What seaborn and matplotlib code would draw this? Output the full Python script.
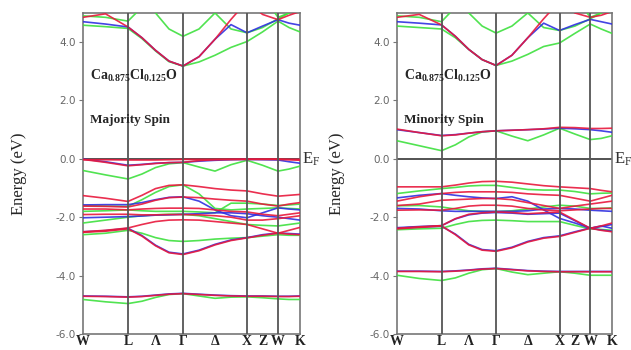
import numpy as np
import pandas as pd
import matplotlib
matplotlib.use("Agg")
import matplotlib.pyplot as plt
import seaborn as sns

# ---------------- data ----------------
# k-path nodes: W, -, L, -, Λ, -, Γ, -, Δ, -, X, Z, W, -, K
k_nodes = [0, 22.5, 45, 59, 72.5, 86, 100, 116, 132, 148, 164, 179.5, 195, 206, 217]
sym_pos = [0, 45, 72.5, 100, 132, 164, 179.5, 195, 217]
sym_labels = ["W", "L", "Λ", "Γ", "Δ", "X", "Z", "W", "K"]
vline_pos = [45, 100, 164, 195]
y_ticks = [-6.0, -4.0, -2.0, 0.0, 2.0, 4.0]

# Majority spin bands
maj_red = [
    [4.85, 4.97, 4.52, 4.15, 3.72, 3.35, 3.18, 3.50, 4.10, 4.78, 5.40, 5.60, 5.60, 5.60, 5.60],
    [5.60, 5.60, 5.60, 5.60, 5.60, 5.60, 5.60, 5.60, 5.60, 5.60, 5.40, 4.95, 4.77, 4.92, 5.05],
    [-0.02, -0.12, -0.24, -0.20, -0.16, -0.13, -0.12, -0.06, -0.03, -0.02, -0.01, -0.01, -0.01, -0.03, -0.05],
    [-0.03, -0.03, -0.04, -0.04, -0.04, -0.03, -0.02, -0.02, -0.02, -0.02, -0.02, -0.02, -0.02, -0.02, -0.02],
    [-1.26, -1.35, -1.46, -1.25, -1.02, -0.91, -0.89, -0.95, -1.02, -1.07, -1.10, -1.20, -1.28, -1.25, -1.22],
    [-1.62, -1.63, -1.65, -1.55, -1.42, -1.33, -1.31, -1.33, -1.38, -1.42, -1.45, -1.55, -1.62, -1.55, -1.50],
    [-1.72, -1.72, -1.75, -1.72, -1.70, -1.69, -1.69, -1.70, -1.75, -1.80, -1.82, -1.90, -1.95, -1.90, -1.85],
    [-1.91, -1.90, -1.90, -1.92, -1.92, -1.91, -1.91, -1.92, -1.95, -2.00, -2.10, -2.10, -2.05, -2.00, -1.95],
    [-2.50, -2.45, -2.37, -2.25, -2.15, -2.10, -2.09, -2.10, -2.15, -2.20, -2.25, -2.40, -2.55, -2.45, -2.35],
    [-2.52, -2.48, -2.40, -2.65, -2.98, -3.22, -3.28, -3.15, -2.95, -2.80, -2.71, -2.62, -2.55, -2.58, -2.60],
    [-4.71, -4.72, -4.74, -4.72, -4.68, -4.64, -4.62, -4.65, -4.68, -4.70, -4.71, -4.71, -4.72, -4.72, -4.71],
]
maj_blue = [
    [4.70, 4.62, 4.52, 4.15, 3.72, 3.35, 3.18, 3.50, 4.10, 4.60, 4.32, 4.55, 4.77, 4.65, 4.58],
    [-0.01, -0.10, -0.22, -0.19, -0.15, -0.13, -0.12, -0.08, -0.05, -0.03, -0.02, -0.03, -0.04, -0.10, -0.15],
    [-1.58, -1.57, -1.57, -1.50, -1.40, -1.32, -1.30, -1.45, -1.75, -1.95, -2.02, -1.85, -1.68, -1.72, -1.75],
    [-2.02, -2.00, -1.98, -1.96, -1.93, -1.92, -1.90, -1.88, -1.85, -1.85, -1.88, -1.95, -2.00, -2.05, -2.10],
    [-2.50, -2.46, -2.38, -2.63, -2.96, -3.20, -3.26, -3.13, -2.93, -2.78, -2.70, -2.60, -2.54, -2.56, -2.58],
    [-4.70, -4.71, -4.73, -4.71, -4.67, -4.63, -4.61, -4.64, -4.67, -4.69, -4.70, -4.70, -4.71, -4.71, -4.70],
]
maj_green = [
    [4.90, 4.85, 4.72, 5.20, 5.60, 5.60, 5.60, 5.60, 5.60, 5.60, 5.60, 5.60, 4.85, 5.00, 5.20],
    [4.58, 4.53, 4.47, 4.12, 3.70, 3.33, 3.18, 3.32, 3.55, 3.82, 4.02, 4.35, 4.72, 4.50, 4.35],
    [5.60, 5.60, 5.60, 5.50, 5.00, 4.45, 4.20, 4.45, 5.00, 4.45, 4.32, 4.50, 4.80, 5.00, 5.20],
    [-0.40, -0.55, -0.69, -0.52, -0.30, -0.17, -0.13, -0.28, -0.42, -0.20, -0.05, -0.22, -0.42, -0.35, -0.25],
    [-1.60, -1.62, -1.63, -1.40, -1.15, -0.95, -0.89, -1.20, -1.70, -1.75, -1.72, -1.70, -1.68, -1.70, -1.72],
    [-1.80, -1.78, -1.75, -1.78, -1.80, -1.80, -1.80, -1.82, -1.85, -1.52, -1.52, -1.55, -1.60, -1.58, -1.55],
    [-2.20, -2.10, -2.00, -1.95, -1.92, -1.90, -1.90, -1.95, -2.05, -2.15, -2.25, -2.28, -2.30, -2.25, -2.20],
    [-2.60, -2.55, -2.45, -2.55, -2.70, -2.80, -2.83, -2.80, -2.75, -2.72, -2.70, -2.65, -2.60, -2.62, -2.62],
    [-4.82, -4.90, -4.96, -4.88, -4.75, -4.65, -4.62, -4.70, -4.78, -4.74, -4.73, -4.76, -4.80, -4.82, -4.82],
]

# Minority spin bands
min_red = [
    [4.85, 4.95, 4.59, 4.20, 3.75, 3.40, 3.20, 3.55, 4.15, 4.80, 5.40, 5.60, 5.60, 5.60, 5.60],
    [5.60, 5.60, 5.60, 5.60, 5.60, 5.60, 5.60, 5.60, 5.60, 5.60, 5.40, 5.00, 4.85, 4.92, 5.05],
    [1.02, 0.90, 0.79, 0.82, 0.88, 0.93, 0.96, 0.98, 1.00, 1.03, 1.08, 1.07, 1.04, 1.04, 1.05],
    [-0.96, -0.96, -0.96, -0.90, -0.83, -0.78, -0.77, -0.80, -0.86, -0.92, -0.96, -0.99, -1.02, -1.08, -1.13],
    [-1.45, -1.30, -1.19, -1.15, -1.13, -1.13, -1.13, -1.15, -1.20, -1.23, -1.25, -1.35, -1.45, -1.35, -1.25],
    [-1.60, -1.55, -1.42, -1.40, -1.38, -1.36, -1.36, -1.40, -1.50, -1.60, -1.70, -1.62, -1.55, -1.50, -1.45],
    [-1.76, -1.75, -1.76, -1.70, -1.62, -1.59, -1.59, -1.62, -1.70, -1.75, -1.78, -1.75, -1.72, -1.70, -1.70],
    [-2.38, -2.33, -2.29, -2.05, -1.90, -1.85, -1.82, -1.84, -1.88, -1.85, -1.82, -2.10, -2.38, -2.30, -2.20],
    [-2.40, -2.35, -2.30, -2.60, -2.95, -3.13, -3.17, -3.05, -2.85, -2.72, -2.66, -2.52, -2.38, -2.45, -2.50],
    [-3.86, -3.86, -3.87, -3.85, -3.82, -3.78, -3.76, -3.80, -3.84, -3.86, -3.87, -3.87, -3.87, -3.87, -3.87],
]
min_blue = [
    [4.70, 4.65, 4.59, 4.20, 3.75, 3.40, 3.20, 3.55, 4.15, 4.65, 4.40, 4.60, 4.78, 4.70, 4.62],
    [1.00, 0.90, 0.80, 0.83, 0.88, 0.93, 0.96, 0.98, 1.00, 1.02, 1.05, 1.03, 1.00, 0.96, 0.91],
    [-1.34, -1.25, -1.19, -1.25, -1.30, -1.34, -1.36, -1.30, -1.45, -1.75, -2.04, -2.20, -2.38, -2.30, -2.38],
    [-1.70, -1.72, -1.78, -1.80, -1.80, -1.80, -1.80, -1.80, -1.78, -1.72, -1.70, -1.72, -1.76, -1.78, -1.80],
    [-2.36, -2.32, -2.29, -2.06, -1.92, -1.86, -1.84, -1.86, -1.90, -1.88, -1.86, -2.12, -2.38, -2.32, -2.25],
    [-2.38, -2.34, -2.31, -2.58, -2.93, -3.11, -3.15, -3.03, -2.83, -2.70, -2.64, -2.50, -2.37, -2.44, -2.48],
    [-3.85, -3.85, -3.86, -3.84, -3.81, -3.77, -3.75, -3.79, -3.83, -3.85, -3.86, -3.86, -3.86, -3.86, -3.86],
]
min_green = [
    [4.90, 4.85, 4.70, 5.20, 5.60, 5.60, 5.60, 5.60, 5.60, 5.60, 5.60, 5.60, 4.85, 5.00, 5.20],
    [4.55, 4.50, 4.45, 4.15, 3.75, 3.40, 3.20, 3.35, 3.58, 3.85, 3.97, 4.30, 4.62, 4.45, 4.30],
    [5.60, 5.60, 5.60, 5.50, 5.00, 4.55, 4.31, 4.55, 5.00, 4.50, 4.40, 4.55, 4.80, 5.00, 5.20],
    [0.62, 0.45, 0.28, 0.48, 0.75, 0.92, 0.96, 0.78, 0.62, 0.82, 1.05, 0.85, 0.66, 0.70, 0.79],
    [-1.19, -1.10, -1.02, -0.98, -0.93, -0.91, -0.91, -0.98, -1.05, -1.07, -1.07, -1.12, -1.20, -1.18, -1.17],
    [-1.61, -1.60, -1.65, -1.72, -1.78, -1.80, -1.81, -1.78, -1.72, -1.65, -1.59, -1.62, -1.70, -1.70, -1.68],
    [-2.43, -2.40, -2.38, -2.25, -2.15, -2.11, -2.10, -2.12, -2.15, -2.15, -2.15, -2.28, -2.40, -2.42, -2.45],
    [-3.99, -4.10, -4.17, -4.08, -3.92, -3.80, -3.76, -3.88, -3.97, -3.92, -3.87, -3.92, -3.99, -3.99, -3.99],
]

colors = {"green": "#3ee03e", "blue": "#3030e0", "red": "#e8183c"}


def make_df(red, blue, green):
    rows = []
    for cname, bands in (("green", green), ("blue", blue), ("red", red)):
        for i, b in enumerate(bands):
            for k, e in zip(k_nodes, b):
                rows.append({"k": k, "E": e, "band": f"{cname}{i}", "color": cname})
    return pd.DataFrame(rows)


sns.set_theme(style="white")
plt.rcParams["font.family"] = ["DejaVu Sans"]
plt.rcParams["mathtext.fontset"] = "custom"
plt.rcParams["mathtext.rm"] = "Liberation Serif"
plt.rcParams["mathtext.bf"] = "Liberation Serif:bold"

fig = plt.figure(figsize=(6.31, 3.5), dpi=100)
ax1 = fig.add_axes([0.1315, 0.046, 0.344, 0.917])
ax2 = fig.add_axes([0.629, 0.046, 0.341, 0.917])

panels = [
    (ax1, make_df(maj_red, maj_blue, maj_green), "Majority Spin", 21),
    (ax2, make_df(min_red, min_blue, min_green), "Minority Spin", 18),
]

for ax, df, spin, lpad in panels:
    for cname in ("green", "blue", "red"):
        sub = df[df["color"] == cname]
        sns.lineplot(data=sub, x="k", y="E", units="band", estimator=None,
                     sort=False, color=colors[cname], lw=1.2,
                     alpha=0.9, ax=ax, legend=False, zorder=3)
    for xv in vline_pos:
        ax.axvline(xv, color="#555555", lw=1.3, zorder=4)
    ax.axhline(0.0, color="#444444", lw=1.3, zorder=2)
    ax.set_xlim(0, 217)
    ax.set_ylim(-6, 5)
    ax.set_xticks(sym_pos)
    ax.set_xticklabels(sym_labels, family="Liberation Serif", fontsize=10,
                       fontweight="bold", color="#222222")
    ax.set_yticks(y_ticks)
    ax.set_yticklabels([f"{v:.1f}" for v in y_ticks], fontsize=7.5,
                       color="#666666")
    ax.tick_params(axis="y", direction="out", length=3, width=0.8,
                   color="#777777", pad=2, left=True)
    ax.tick_params(axis="x", length=0, pad=1)
    for sp in ax.spines.values():
        sp.set_color("#777777")
        sp.set_linewidth(1.2)
    ax.set_xlabel("")
    ax.set_ylabel("Energy (eV)", family="Liberation Serif", fontsize=12,
                  labelpad=lpad)
    ax.text(7, 2.85, r"$\mathbf{Ca_{0.875}Cl_{0.125}O}$", fontsize=10,
            va="center", ha="left", zorder=6)
    ax.text(7, 1.32, spin, family="Liberation Serif", fontweight="bold",
            fontsize=9.5, va="center", ha="left", zorder=6)
    ax.text(1.008, 0.0, r"$\mathrm{E_F}$", transform=ax.get_yaxis_transform(),
            fontsize=12, va="center", ha="left", color="#333333")

fig.savefig("out.png", dpi=100, facecolor="white")
